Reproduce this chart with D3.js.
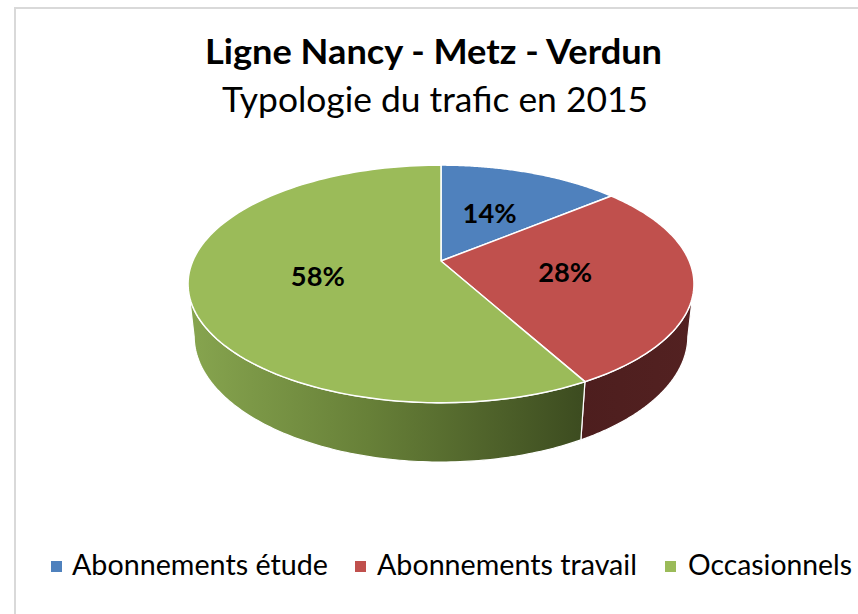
<!DOCTYPE html>
<html><head><meta charset="utf-8">
<script src="https://cdn.jsdelivr.net/npm/d3@7"></script>
<style>html,body{margin:0;padding:0;background:#fff;}svg{display:block;}</style>
</head><body>
<svg id="chart" width="858" height="614"></svg>
<script>
const categories = ["Abonnements étude", "Abonnements travail", "Occasionnels"];
const values = [14, 28, 58];
const labels = ["14%", "28%", "58%"];
const topColors = ["#4f81bd", "#c0504d", "#9bbb59"];
const title = "Ligne Nancy - Metz - Verdun";
const subtitle = "Typologie du trafic en 2015";

const svg = d3.select("#chart");

// frame
svg.append("rect").attr("x", 15).attr("y", 8).attr("width", 900).attr("height", 700)
  .attr("fill", "#fff").attr("stroke", "#d9d9d9").attr("stroke-width", 2);

// titles
svg.append("text").attr("x", 433.5).attr("y", 64).attr("text-anchor", "middle")
  .attr("font-family", "Lato, 'Open Sans', sans-serif").attr("font-weight", "bold").attr("font-size", 35)
  .attr("textLength", 457).attr("lengthAdjust", "spacingAndGlyphs").attr("fill", "#000").text(title);
svg.append("text").attr("x", 435).attr("y", 112).attr("text-anchor", "middle")
  .attr("font-family", "Lato, 'Open Sans', sans-serif").attr("font-size", 34)
  .attr("textLength", 426).attr("lengthAdjust", "spacingAndGlyphs").attr("fill", "#000").text(subtitle);

// 3D perspective projection of a unit circle
const cx = 441, cy = 261;
const phi = Math.asin(0.461), cphi = Math.cos(phi), sphi = Math.sin(phi);
const dd = 4.597, f = 1141, h = 0.239;
function proj(theta, r, z) {
  const X = r * Math.sin(theta), Y = r * Math.cos(theta), Z = z;
  const depth = Y * cphi - Z * sphi + dd;
  return [cx + f * X / depth, cy - f * (Y * sphi + Z * cphi) / depth];
}

const pie = d3.pie().sort(null).value(d => d)(values);
const color = d3.scaleOrdinal().domain(categories).range(topColors);

const defs = svg.append("defs");
const gGreen = defs.append("linearGradient").attr("id", "gGreen")
  .attr("gradientUnits", "userSpaceOnUse").attr("x1", 188).attr("x2", 590).attr("y1", 0).attr("y2", 0);
gGreen.append("stop").attr("offset", 0).attr("stop-color", "#87a54f");
gGreen.append("stop").attr("offset", 0.45).attr("stop-color", "#678038");
gGreen.append("stop").attr("offset", 1).attr("stop-color", "#3b4a1f");
const gRed = defs.append("linearGradient").attr("id", "gRed")
  .attr("gradientUnits", "userSpaceOnUse").attr("x1", 580).attr("x2", 695).attr("y1", 0).attr("y2", 0);
gRed.append("stop").attr("offset", 0).attr("stop-color", "#4d1e1e");
gRed.append("stop").attr("offset", 1).attr("stop-color", "#532121");
const gBlue = defs.append("linearGradient").attr("id", "gBlue");
gBlue.append("stop").attr("offset", 0).attr("stop-color", "#27405f");
const wallFill = ["url(#gBlue)", "url(#gRed)", "url(#gGreen)"];

const kk = cphi / dd;
const vis0 = Math.acos(-kk), vis1 = 2 * Math.PI - Math.acos(-kk);
const N = 120;
const line = d3.line();

// walls
pie.forEach((s, i) => {
  const a0 = Math.max(s.startAngle, vis0), a1 = Math.min(s.endAngle, vis1);
  if (a1 <= a0) return;
  const top = [], bot = [];
  for (let j = 0; j <= N; j++) {
    const t = a0 + (a1 - a0) * j / N;
    top.push(proj(t, 1, 0));
    bot.push(proj(t, 1, -h));
  }
  svg.append("path").attr("d", line(top.concat(bot.reverse())) + "Z")
    .attr("fill", wallFill[i]).attr("stroke", "#fff").attr("stroke-width", 1.2).attr("stroke-linejoin", "round");
});

// top faces
pie.forEach((s, i) => {
  const pts = [proj(0, 0, 0)];
  for (let j = 0; j <= N; j++) {
    const t = s.startAngle + (s.endAngle - s.startAngle) * j / N;
    pts.push(proj(t, 1, 0));
  }
  svg.append("path").attr("d", line(pts) + "Z")
    .attr("fill", color(categories[i])).attr("stroke", "#fff").attr("stroke-width", 1.5).attr("stroke-linejoin", "round");
});

// labels
pie.forEach((s, i) => {
  const p = proj((s.startAngle + s.endAngle) / 2, 0.5, 0);
  svg.append("text").attr("x", p[0]).attr("y", p[1] + 10).attr("text-anchor", "middle")
    .attr("font-family", "Lato, 'Open Sans', sans-serif").attr("font-weight", "bold").attr("font-size", 27)
    .attr("textLength", 54).attr("lengthAdjust", "spacingAndGlyphs").attr("fill", "#000").text(labels[i]);
});

// legend
const legX = [51, 355, 665], legTextX = [72, 377, 688], legLen = [256, 260, 164];
categories.forEach((c, i) => {
  svg.append("rect").attr("x", legX[i]).attr("y", 561).attr("width", 11).attr("height", 11).attr("fill", color(c));
  svg.append("text").attr("x", legTextX[i]).attr("y", 575)
    .attr("font-family", "Lato, 'Open Sans', sans-serif").attr("font-size", 28)
    .attr("textLength", legLen[i]).attr("lengthAdjust", "spacingAndGlyphs").attr("fill", "#000").text(c);
});
</script>
</body></html>
